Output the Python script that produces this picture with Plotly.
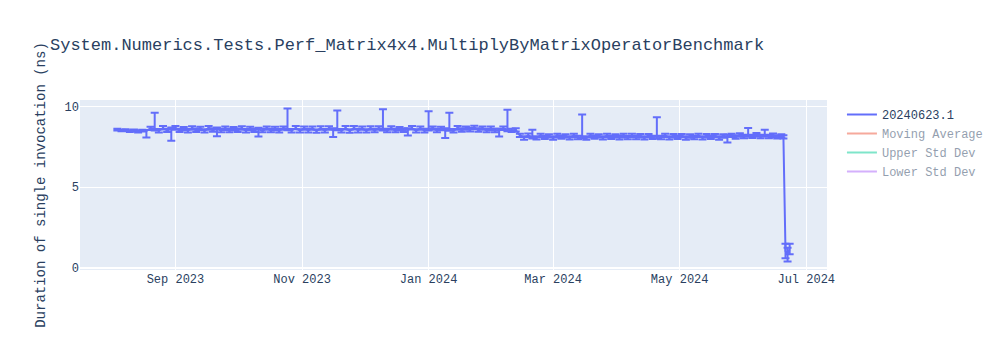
import pandas as pd
import plotly.graph_objects as go

title = "System.Numerics.Tests.Perf_Matrix4x4.MultiplyByMatrixOperatorBenchmark"
y_title = "Duration of single invocation (ns)"
series_name = "20240623.1"

start_date = "2023-08-04"
n_regular = 161
extra_dates = ["2024-06-20", "2024-06-21", "2024-06-22", "2024-06-23"]

values = [
    8.56, 8.50, 8.54, 8.46, 8.52, 8.44, 8.50, 8.48, 8.64, 8.62,
    8.50, 8.66, 8.52, 8.58, 8.68, 8.50, 8.64, 8.49, 8.67, 8.51,
    8.65, 8.48, 8.68, 8.52, 8.60, 8.50, 8.66, 8.49, 8.64, 8.52,
    8.67, 8.48, 8.65, 8.51, 8.58, 8.49, 8.66, 8.50, 8.64, 8.48,
    8.66, 8.62, 8.50, 8.67, 8.49, 8.65, 8.51, 8.64, 8.48, 8.66,
    8.50, 8.65, 8.55, 8.62, 8.50, 8.66, 8.48, 8.67, 8.51, 8.64,
    8.49, 8.66, 8.52, 8.65, 8.62, 8.50, 8.67, 8.49, 8.64, 8.52,
    8.55, 8.66, 8.49, 8.65, 8.51, 8.60, 8.67, 8.50, 8.64, 8.52,
    8.60, 8.49, 8.68, 8.52, 8.66, 8.55, 8.70, 8.52, 8.66, 8.50,
    8.65, 8.49, 8.52, 8.64, 8.58, 8.50, 8.55, 8.20, 8.06, 8.20,
    8.12, 8.05, 8.21, 8.07, 8.19, 8.04, 8.20, 8.08, 8.18, 8.05,
    8.21, 8.06, 8.14, 8.04, 8.20, 8.08, 8.19, 8.05, 8.21, 8.07,
    8.18, 8.09, 8.20, 8.05, 8.21, 8.07, 8.19, 8.04, 8.20, 8.08,
    8.15, 8.06, 8.21, 8.05, 8.19, 8.07, 8.20, 8.04, 8.18, 8.06,
    8.21, 8.05, 8.19, 8.07, 8.20, 8.04, 8.18, 8.12, 8.22, 8.10,
    8.24, 8.12, 8.25, 8.14, 8.26, 8.12, 8.24, 8.13, 8.22, 8.10,
    8.18,
    8.12, 1.05, 0.90, 1.15,
]

err_plus = [
    0.05, 0.06, 0.05, 0.06, 0.05, 0.07, 0.05, 0.06, 0.10, 0.98,
    0.10, 0.12, 0.09, 0.11, 0.10, 0.12, 0.09, 0.11, 0.10, 0.12,
    0.09, 0.11, 0.10, 0.12, 0.09, 0.11, 0.10, 0.12, 0.09, 0.11,
    0.10, 0.12, 0.09, 0.11, 0.10, 0.12, 0.09, 0.11, 0.10, 0.12,
    0.09, 1.25, 0.10, 0.12, 0.09, 0.11, 0.10, 0.12, 0.09, 0.11,
    0.10, 0.12, 0.09, 1.13, 0.10, 0.12, 0.09, 0.11, 0.10, 0.12,
    0.09, 0.11, 0.10, 0.12, 1.20, 0.11, 0.10, 0.12, 0.09, 0.11,
    0.10, 0.12, 0.09, 0.11, 0.10, 1.10, 0.09, 0.11, 0.10, 0.12,
    1.00, 0.11, 0.10, 0.12, 0.09, 0.11, 0.10, 0.12, 0.09, 0.11,
    0.10, 0.12, 0.09, 0.11, 1.22, 0.12, 0.09, 0.11, 0.10, 0.12,
    0.44, 0.11, 0.10, 0.12, 0.09, 0.11, 0.10, 0.12, 0.09, 0.11,
    0.10, 0.12, 1.36, 0.11, 0.10, 0.12, 0.09, 0.11, 0.10, 0.12,
    0.09, 0.11, 0.10, 0.12, 0.09, 0.11, 0.10, 0.12, 0.09, 0.11,
    1.18, 0.12, 0.09, 0.11, 0.10, 0.12, 0.09, 0.11, 0.10, 0.12,
    0.09, 0.11, 0.10, 0.12, 0.09, 0.11, 0.10, 0.12, 0.09, 0.11,
    0.10, 0.12, 0.42, 0.11, 0.10, 0.12, 0.32, 0.11, 0.10, 0.12,
    0.09,
    0.10, 0.45, 0.35, 0.35,
]

err_minus = [
    0.05, 0.04, 0.06, 0.05, 0.06, 0.05, 0.06, 0.40, 0.10, 0.11,
    0.12, 0.09, 0.11, 0.70, 0.12, 0.09, 0.11, 0.10, 0.12, 0.09,
    0.11, 0.10, 0.12, 0.09, 0.45, 0.10, 0.12, 0.09, 0.11, 0.10,
    0.12, 0.09, 0.11, 0.10, 0.44, 0.09, 0.11, 0.10, 0.12, 0.09,
    0.11, 0.10, 0.12, 0.09, 0.11, 0.10, 0.12, 0.09, 0.11, 0.10,
    0.12, 0.09, 0.45, 0.10, 0.12, 0.09, 0.11, 0.10, 0.12, 0.09,
    0.11, 0.10, 0.12, 0.09, 0.11, 0.10, 0.12, 0.09, 0.11, 0.10,
    0.35, 0.09, 0.11, 0.10, 0.12, 0.09, 0.11, 0.10, 0.12, 0.48,
    0.11, 0.10, 0.12, 0.09, 0.11, 0.10, 0.12, 0.09, 0.11, 0.10,
    0.12, 0.09, 0.38, 0.10, 0.12, 0.09, 0.11, 0.10, 0.12, 0.09,
    0.11, 0.10, 0.12, 0.09, 0.11, 0.10, 0.12, 0.09, 0.11, 0.10,
    0.12, 0.09, 0.11, 0.10, 0.12, 0.09, 0.11, 0.10, 0.12, 0.09,
    0.11, 0.14, 0.12, 0.09, 0.11, 0.10, 0.12, 0.09, 0.11, 0.10,
    0.12, 0.09, 0.11, 0.10, 0.12, 0.09, 0.11, 0.10, 0.12, 0.09,
    0.11, 0.10, 0.12, 0.09, 0.11, 0.10, 0.12, 0.35, 0.11, 0.10,
    0.12, 0.09, 0.11, 0.10, 0.12, 0.09, 0.11, 0.10, 0.12, 0.09,
    0.11,
    0.10, 0.45, 0.50, 0.30,
]

dates = list(pd.date_range(start_date, periods=n_regular, freq="2D")) + list(pd.to_datetime(extra_dates))

s = pd.Series(values)
moving_avg = s.rolling(7, min_periods=1).mean()
moving_std = s.rolling(7, min_periods=1).std().fillna(0)
upper = moving_avg + 2 * moving_std
lower = moving_avg - 2 * moving_std

fig = go.Figure()
fig.add_trace(go.Scatter(
    x=dates, y=values, mode="lines", name=series_name,
    error_y=dict(type="data", symmetric=False, array=err_plus, arrayminus=err_minus, visible=True),
))
fig.add_trace(go.Scatter(x=dates, y=moving_avg, mode="lines", name="Moving Average", visible="legendonly"))
fig.add_trace(go.Scatter(x=dates, y=upper, mode="lines", name="Upper Std Dev", visible="legendonly"))
fig.add_trace(go.Scatter(x=dates, y=lower, mode="lines", name="Lower Std Dev", visible="legendonly"))

fig.update_layout(
    width=1000, height=350,
    title=dict(text=title),
    font=dict(family="Liberation Mono, Courier New, monospace"),
    yaxis=dict(title=dict(text=y_title)),
    template="plotly",
)

fig.write_html("out.html")
